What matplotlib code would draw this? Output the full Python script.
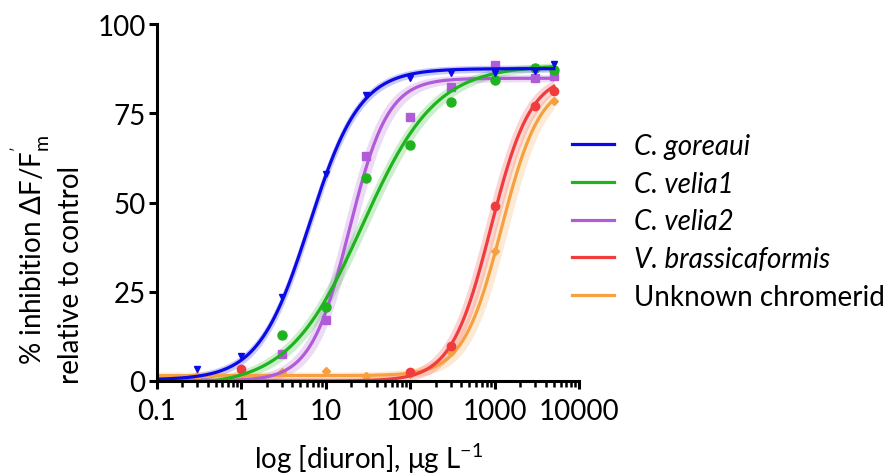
import numpy as np
import matplotlib
matplotlib.use("Agg")
import matplotlib.pyplot as plt
from matplotlib.lines import Line2D
from matplotlib.ticker import LogLocator, FixedLocator, NullFormatter

plt.rcParams['font.family'] = ['Lato', 'DejaVu Sans']
plt.rcParams['mathtext.fontset'] = 'custom'
plt.rcParams['mathtext.rm'] = 'Lato'

# Concentracoes (ug/L) e respostas medidas (% inibicao)
conc = [0.1, 0.3, 1, 3, 10, 30, 100, 300, 1000, 3000, 5000]
nan = np.nan
goreaui = [0, 3.3, 7, 23.5, 58, 80, 85, 86.4, 86.4, 86.7, 88.7]
velia1 = [nan, nan, nan, 12.9, 20.6, 56.8, 66.2, 78.1, 84.3, 87.8, 87.0]
velia2 = [nan, nan, nan, 7.5, 17.2, 62.9, 74, 82.4, 88.5, 85.0, 85.4]
brassica = [nan, nan, 3.3, nan, nan, nan, 2.4, 9.9, 49.0, 77.0, 81.2]
unknown = [nan, 1.4, 1.1, 2.5, 2.8, 1.4, 2.0, 8.0, 36.4, nan, 78.4]

labels = ["C. goreaui", "C. velia1", "C. velia2", "V. brassicaformis",
          "Unknown chromerid"]

# Parametros do ajuste dose-resposta (4 parametros)
fit_bottom = [0.3, -1.5, 0.0, 0.0, 1.5]
fit_top = [87.5, 88.5, 84.8, 86.0, 84.0]
fit_ec50 = [6.4, 27, 19, 900, 1200]
fit_hill = [1.45, 1.0, 1.9, 1.85, 1.9]
fit_ci = [0.02, 0.05, 0.06, 0.06, 0.07]  # meia largura do IC em log EC50

colors = ['#0a0ae6', '#1fb41f', '#b05cd8', '#f03c3c', '#f7a040']
markers = ['v', 'o', 's', 'o', 'D']
msizes = [5, 6.5, 5.5, 6, 4.5]
fsize = 20


def hill_curve(x, bottom, top, ec50, h):
    return bottom + (top - bottom) / (1 + 10 ** ((np.log10(ec50) - np.log10(x)) * h))


fig = plt.figure(figsize=(8.92, 4.77), dpi=100)
ax = fig.add_axes([156.7 / 892, 1 - 382 / 477, (579.3 - 156.7) / 892, (382 - 25) / 477])

series = [goreaui, velia1, velia2, brassica, unknown]
xs = np.logspace(-1, np.log10(5000), 400)
order = [4, 3, 2, 1, 0]
for i in order:
    b, t, e, h, ci = fit_bottom[i], fit_top[i], fit_ec50[i], fit_hill[i], fit_ci[i]
    y_lo = hill_curve(xs, b, t, e * 10 ** ci, h)
    y_hi = hill_curve(xs, b, t, e / 10 ** ci, h)
    ax.fill_between(xs, y_lo - 1, y_hi + 1, color=colors[i], alpha=0.22, lw=0)
    ax.plot(xs, hill_curve(xs, b, t, e, h), color=colors[i], lw=2.3)
    ax.plot(conc, series[i], ls='none', marker=markers[i], ms=msizes[i],
            color=colors[i], mec=colors[i])

ax.set_xscale('log')
ax.set_xlim(0.1, 10000)
ax.set_ylim(0, 100)
ax.set_yticks([0, 25, 50, 75, 100])
ax.xaxis.set_major_locator(FixedLocator([0.1, 1, 10, 100, 1000, 10000]))
ax.set_xticklabels(['0.1', '1', '10', '100', '1000', '10000'])
ax.xaxis.set_minor_locator(LogLocator(base=10, subs=np.arange(2, 10)))
ax.xaxis.set_minor_formatter(NullFormatter())

for side in ['top', 'right']:
    ax.spines[side].set_visible(False)
for side in ['left', 'bottom']:
    ax.spines[side].set_linewidth(2.2)
ax.tick_params(axis='both', which='major', length=6, width=2.2,
               labelsize=fsize)
ax.tick_params(axis='x', which='major', pad=6)
ax.tick_params(axis='y', which='major', pad=2)
ax.tick_params(axis='x', which='minor', length=4, width=1.8)

ax.set_xlabel(r"log [diuron], μg L$^{\mathregular{-1}}$", fontsize=fsize,
              labelpad=12)
fig.text(31 / 892, 1 - 250 / 477,
         r"% inhibition ΔF/F$_{\mathregular{m}}^{\mathregular{'}}$",
         rotation=90, ha='center', va='center', fontsize=fsize)
fig.text(71 / 892, 1 - 275 / 477, "relative to control",
         rotation=90, ha='center', va='center', fontsize=fsize)

handles = [Line2D([], [], color=c, lw=2.3) for c in colors]
leg = ax.legend(handles, labels, loc='upper left',
                bbox_to_anchor=(572 / 892, 1 - 134 / 477),
                bbox_transform=fig.transFigure, frameon=False,
                fontsize=fsize, handlelength=1.5, handletextpad=0.75,
                labelspacing=0.42, borderpad=0, borderaxespad=0)
for txt in leg.get_texts()[:4]:
    txt.set_style('italic')

plt.savefig("out.png", dpi=100)
